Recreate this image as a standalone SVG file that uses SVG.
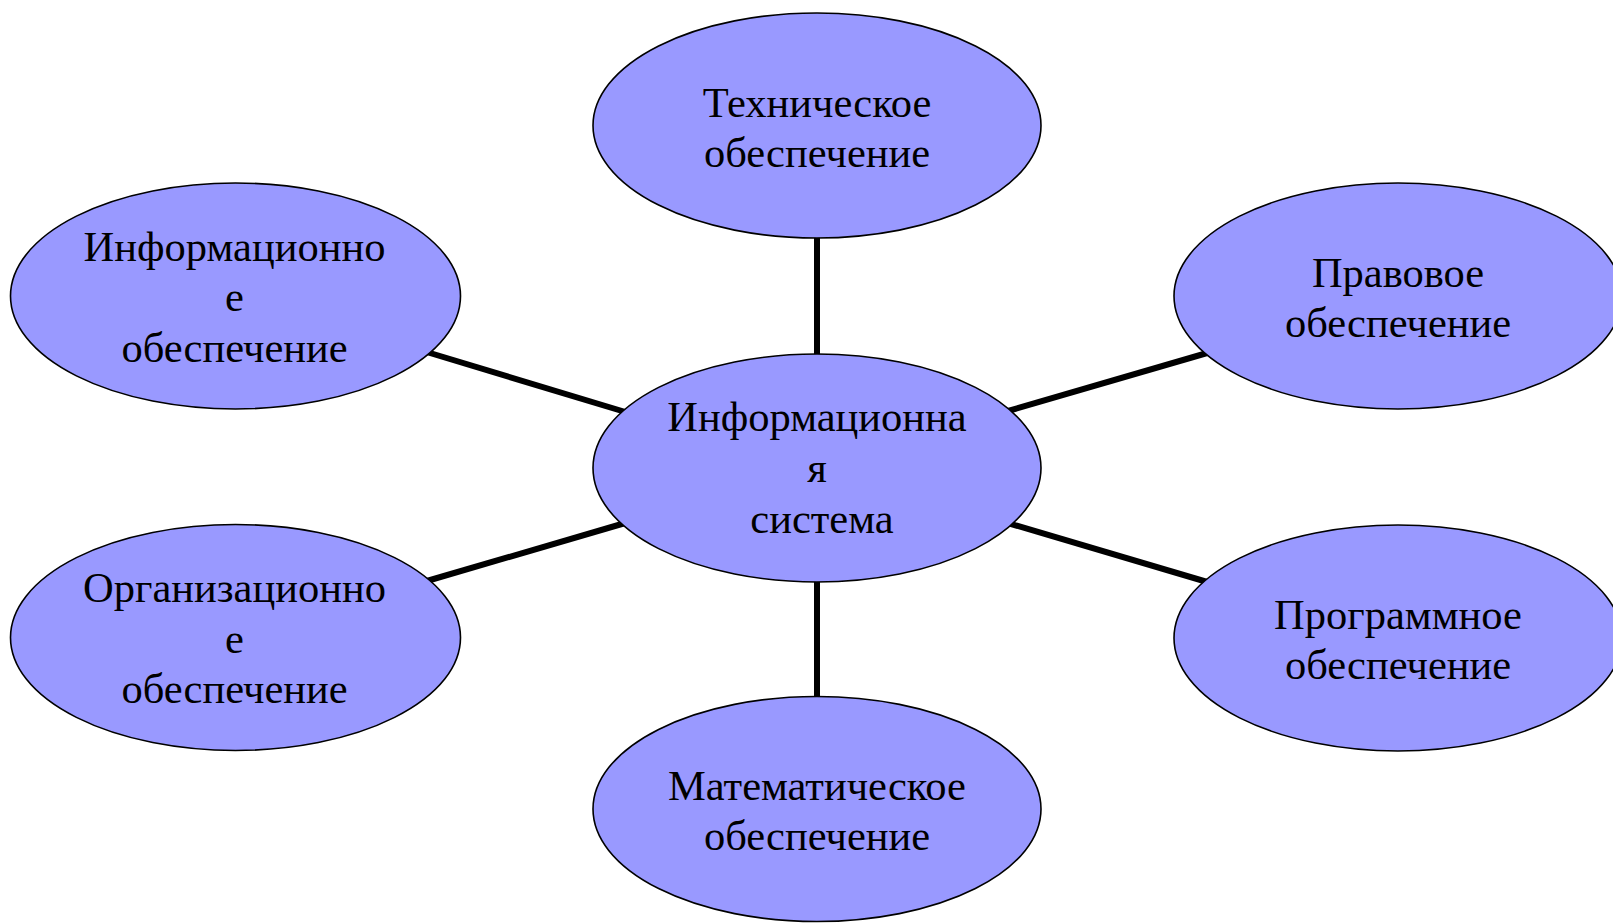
<svg xmlns="http://www.w3.org/2000/svg" width="1613" height="923" viewBox="0 0 1613 923">
<style>
.node ellipse{fill:#9999FF;stroke:#000;stroke-width:1.6}
.node text{font-family:"Liberation Serif","Times New Roman",serif;font-size:42.5px;fill:#000;text-anchor:middle}
.conn line{stroke:#000;stroke-width:6}
</style>
<rect width="1613" height="923" fill="#fff"/>
<g id="connectors" class="conn">
<line x1="817" y1="230" x2="817" y2="362"/>
<line x1="817" y1="574" x2="817" y2="705"/>
<line x1="420" y1="350" x2="632" y2="414"/>
<line x1="1001" y1="413" x2="1214" y2="351"/>
<line x1="420" y1="583" x2="632" y2="521"/>
<line x1="1001" y1="521" x2="1214" y2="584"/>
</g>
<g id="n-tech" class="node">
<ellipse cx="817" cy="125.5" rx="224" ry="112.5"/>
<text x="817" y="116.5">Техническое</text>
<text x="817" y="166.5">обеспечение</text>
</g>
<g id="n-info" class="node">
<ellipse cx="235.5" cy="296" rx="225" ry="113"/>
<text x="234.5" y="260.5">Информационно</text>
<text x="234.5" y="311">е</text>
<text x="234.5" y="361.5">обеспечение</text>
</g>
<g id="n-pravo" class="node">
<ellipse cx="1398" cy="296" rx="224" ry="113"/>
<text x="1398" y="287">Правовое</text>
<text x="1398" y="337">обеспечение</text>
</g>
<g id="n-system" class="node">
<ellipse cx="817" cy="468" rx="224" ry="114"/>
<text x="817" y="431">Информационна</text>
<text x="817" y="482">я</text>
<text x="822" y="532.5">система</text>
</g>
<g id="n-org" class="node">
<ellipse cx="235.5" cy="637.5" rx="225" ry="113"/>
<text x="234.5" y="602">Организационно</text>
<text x="234.5" y="652.5">е</text>
<text x="234.5" y="703">обеспечение</text>
</g>
<g id="n-prog" class="node">
<ellipse cx="1398" cy="638" rx="224" ry="113"/>
<text x="1398" y="629">Программное</text>
<text x="1398" y="679">обеспечение</text>
</g>
<g id="n-math" class="node">
<ellipse cx="817" cy="809" rx="224" ry="112.5"/>
<text x="817" y="800">Математическое</text>
<text x="817" y="850">обеспечение</text>
</g>
</svg>
